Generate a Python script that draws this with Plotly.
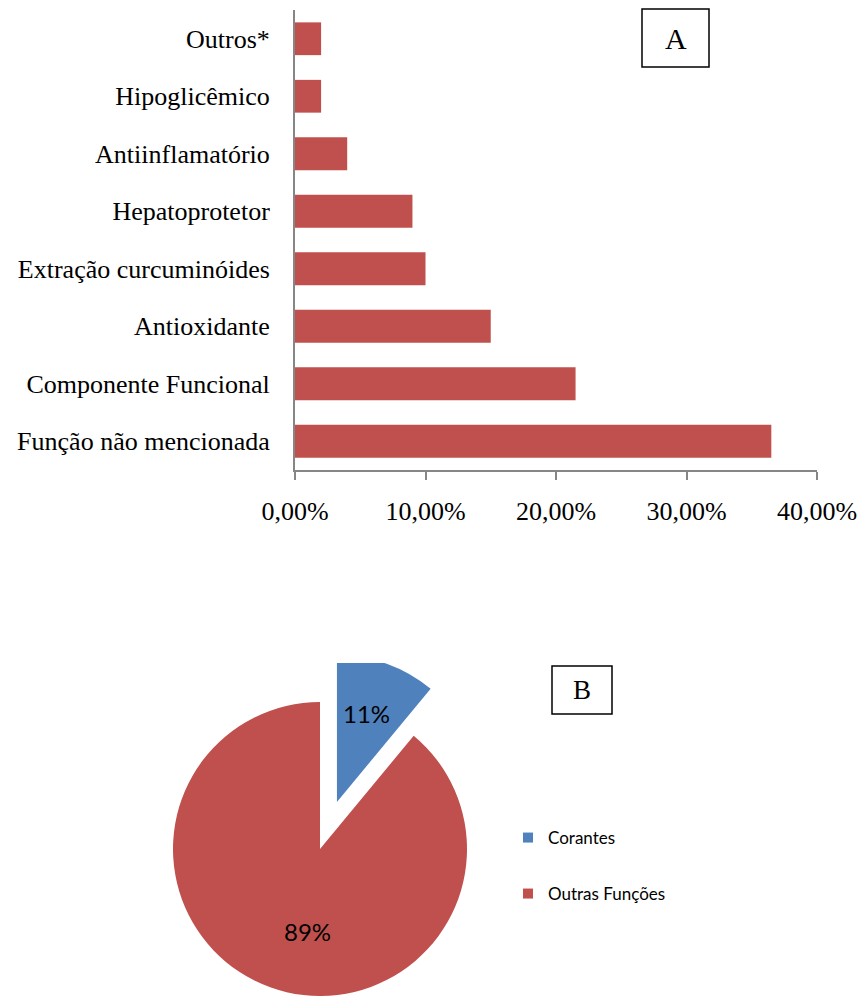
import math
import plotly.graph_objects as go

# ---------------- data ----------------
categories = ["Função não mencionada", "Componente Funcional", "Antioxidante",
              "Extração curcuminóides", "Hepatoprotetor", "Antiinflamatório",
              "Hipoglicêmico", "Outros*"]
shares = [0.365, 0.215, 0.15, 0.10, 0.09, 0.04, 0.02, 0.02]
x_ticks = [0, 0.1, 0.2, 0.3, 0.4]

pie_labels = ["Corantes", "Outras Funções"]
pie_values = [11, 89]

# ---------------- style ----------------
W, H = 861, 996
RED = "#C0504D"
BLUE = "#4F81BD"
AXIS = "#868686"
SERIF = "Liberation Serif, Times New Roman, serif"
SANS = "Lato"


def fx(p):
    return p / W


def fy(p):
    return 1 - p / H


fig = go.Figure()

# ---------------- bar chart (A) ----------------
fig.add_trace(go.Bar(
    y=categories, x=shares, orientation="h",
    marker=dict(color=RED, line=dict(width=0)),
    showlegend=False, hoverinfo="skip",
))

# ---------------- pie chart (B) ----------------
r = 147
cx, cy = 320, 849
pull_frac = 0.34
total = sum(pie_values)
mid_angle = math.radians(360 * pie_values[0] / total / 2)
dx = pull_frac * r * math.sin(mid_angle)
dy = -pull_frac * r * math.cos(mid_angle)

common = dict(labels=pie_labels, values=pie_values, sort=False,
              direction="clockwise", rotation=0, textinfo="none",
              showlegend=False, hoverinfo="skip")

fig.add_trace(go.Pie(
    marker=dict(colors=["rgba(0,0,0,0)", RED], line=dict(width=0)),
    domain=dict(x=[fx(cx - r), fx(cx + r)], y=[max(0, fy(cy + r)), fy(cy - r)]),
    **common,
))
bx, by = cx + dx, cy + dy
fig.add_trace(go.Pie(
    marker=dict(colors=[BLUE, "rgba(0,0,0,0)"], line=dict(width=0)),
    domain=dict(x=[fx(bx - r), fx(bx + r)], y=[fy(by + r), fy(by - r)]),
    **common,
))

# percentage labels of the slices
pct_text = [f"{round(100 * v / total)}%" for v in pie_values]
pct_pos = [(366, 713), (307, 931)]

# legend entries for the pie
fig.add_trace(go.Scatter(x=[None], y=[None], mode="markers", name=pie_labels[0],
                         marker=dict(symbol="square", size=10, color=BLUE),
                         legend="legend", showlegend=True))
fig.add_trace(go.Scatter(x=[None], y=[None], mode="markers", name=pie_labels[1],
                         marker=dict(symbol="square", size=10, color=RED),
                         legend="legend2", showlegend=True))

legend_common = dict(xanchor="left", yanchor="middle", bgcolor="rgba(0,0,0,0)",
                     font=dict(family=SANS, size=17, color="black"),
                     itemclick=False, itemdoubleclick=False)

annotations = [
    dict(text="A", xref="paper", yref="paper", x=fx(675.5), y=fy(38),
         xanchor="center", yanchor="middle", showarrow=False,
         font=dict(family=SERIF, size=30, color="black")),
    dict(text="B", xref="paper", yref="paper", x=fx(582), y=fy(690),
         xanchor="center", yanchor="middle", showarrow=False,
         font=dict(family=SERIF, size=27, color="black")),
]
for t, (px, py) in zip(pct_text, pct_pos):
    annotations.append(dict(text=t, xref="paper", yref="paper", x=fx(px), y=fy(py),
                            xanchor="center", yanchor="middle", showarrow=False,
                            font=dict(family=SANS, size=24, color="black")))

fig.update_layout(
    width=W, height=H,
    margin=dict(l=0, r=0, t=0, b=0, autoexpand=False),
    paper_bgcolor="white", plot_bgcolor="white",
    separators=",.",
    bargap=0.43,
    xaxis=dict(domain=[fx(295), fx(817)], range=[0, 0.4], tickvals=x_ticks,
               tickformat=".2%", ticks="outside", ticklen=8, tickwidth=2,
               tickcolor=AXIS, showline=True, linecolor=AXIS, linewidth=2,
               showgrid=False, zeroline=False, fixedrange=True, automargin=False,
               tickfont=dict(family=SERIF, size=26, color="black"),
               ticklabelstandoff=9),
    yaxis=dict(domain=[fy(470), fy(10)], categoryorder="array",
               categoryarray=categories, range=[-0.5, len(categories) - 0.5],
               showline=True, linecolor=AXIS, linewidth=2, ticks="",
               showgrid=False, zeroline=False, fixedrange=True, automargin=False,
               tickfont=dict(family=SERIF, size=26, color="black"),
               ticklabelstandoff=18),
    legend=dict(x=fx(508), y=fy(838), **legend_common),
    legend2=dict(x=fx(508), y=fy(894), **legend_common),
    shapes=[
        dict(type="rect", xref="paper", yref="paper",
             x0=fx(642), x1=fx(709), y0=fy(67), y1=fy(9),
             line=dict(color="black", width=1.5), fillcolor="white"),
        dict(type="rect", xref="paper", yref="paper",
             x0=fx(552), x1=fx(612), y0=fy(714), y1=fy(666),
             line=dict(color="black", width=1.5), fillcolor="white"),
        dict(type="rect", xref="paper", yref="paper", layer="above",
             x0=fx(170), x1=fx(500), y0=fy(663), y1=fy(560),
             line=dict(width=0), fillcolor="white"),
    ],
    annotations=annotations,
)

fig.write_html("out.html")
